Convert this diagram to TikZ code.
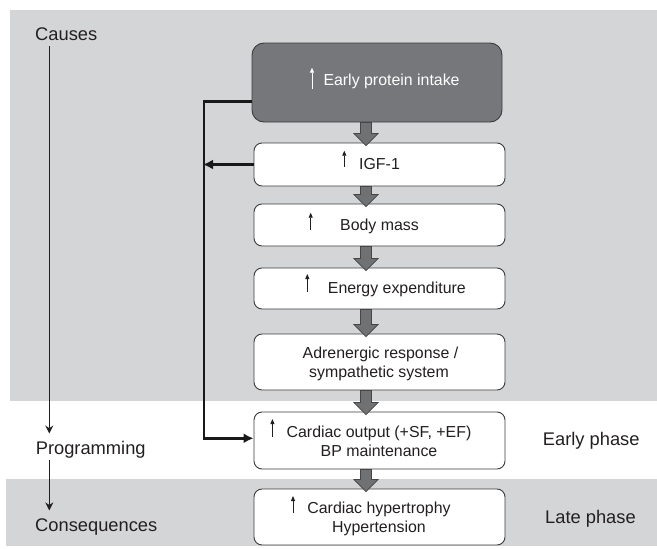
\documentclass[tikz,border=0pt]{standalone}
\usepackage{fontspec}
\setmainfont{Liberation Sans}
\usetikzlibrary{arrows.meta,calc}
\definecolor{bggray}{RGB}{212,213,215}
\definecolor{darkbox}{RGB}{118,119,122}
\definecolor{boxline}{RGB}{60,60,62}
\definecolor{arrfill}{RGB}{112,113,115}
\definecolor{arrline}{RGB}{70,70,72}
\definecolor{txt}{RGB}{35,31,32}
\newcommand{\flowarrow}[2]{%
  \filldraw[flowarr] ($(#1.south -| axis)+(-5.5,0)$) -- ($(#1.south -| axis)+(5.5,0)$)
   -- ($(#2.north -| axis)+(5.5,-9)$) -- ($(#2.north -| axis)+(12,-9)$)
   -- ($(#2.north -| axis)+(0,3)$) -- ($(#2.north -| axis)+(-12,-9)$)
   -- ($(#2.north -| axis)+(-5.5,-9)$) -- cycle;}
\begin{document}
\begin{tikzpicture}[x=1pt,y=-1pt,
  box/.style={draw=boxline, line width=0.9pt, rounded corners=8pt, fill=white,
    minimum width=251pt, inner sep=0pt},
  darkbx/.style={box, fill=darkbox, rounded corners=12pt, minimum width=250pt},
  btext/.style={font=\fontsize{15.9pt}{19pt}\selectfont, text=txt, inner sep=0pt},
  ltext/.style={font=\fontsize{18.3pt}{22pt}\selectfont, text=txt, inner sep=0pt, anchor=base west},
  flowarr/.style={fill=arrfill, draw=arrline, line width=0.7pt, line join=miter},
  fb/.style={draw=black!90, line width=2.8pt, -{Latex[length=10pt,width=10pt]}},
  tl/.style={draw=txt, line width=1.2pt, -{Stealth[length=8pt,width=8pt]}},
  upar/.style={draw=txt, line width=0.8pt, -{Triangle[length=5pt,width=4pt]}},
  upwhite/.style={upar, draw=white}]
\useasboundingbox (0,0) rectangle (657,549);
% background bands
\fill[bggray] (10,10) rectangle (657,401);
\fill[bggray] (6,479) rectangle (657,546);
% boxes
\node[darkbx, minimum height=79pt] (dark) at (377,82.5) {};
\node[box, minimum height=43pt] (igf) at (379.5,164.5) {};
\node[box, minimum height=42pt] (body) at (379.5,225) {};
\node[box, minimum height=41pt] (energy) at (379.5,288.5) {};
\node[box, minimum height=56pt] (adren) at (379.5,362) {};
\node[box, minimum height=57pt] (co) at (379.5,440.5) {};
\node[box, minimum height=56pt] (hyp) at (379.5,517) {};
% flow arrows
\coordinate (axis) at (366,0);
\flowarrow{dark}{igf}
\flowarrow{igf}{body}
\flowarrow{body}{energy}
\flowarrow{energy}{adren}
\flowarrow{adren}{co}
\flowarrow{co}{hyp}
% box texts
\node[btext, text=white, anchor=base west] (t0) at (323.3,85.5) {Early protein intake};
\node[btext, anchor=base west] (t1) at (359,169.3) {IGF-1};
\node[btext, anchor=base west] (t2) at (340,230.7) {Body mass};
\node[btext, anchor=base west] (t3) at (327.7,293.3) {Energy expenditure};
\node[btext, anchor=base] (t4a) at (380.5,358.3) {Adrenergic response /};
\node[btext, anchor=base] (t4b) at (379,377.6) {sympathetic system};
\node[btext, anchor=base] (t5a) at (379,437.3) {Cardiac output (+SF, +EF)};
\node[btext, anchor=base] (t5b) at (379,456) {BP maintenance};
\node[btext, anchor=base] (t6a) at (379,513.3) {Cardiac hypertrophy};
\node[btext, anchor=base] (t6b) at (379,532.3) {Hypertension};
% small up arrows
\draw[upwhite] (312,89) -- (312,67.7);
\draw[upar] (344.3,166.7) -- (344.3,150.7);
\draw[upar] (310.7,230) -- (310.7,212.7);
\draw[upar] (307.3,292) -- (307.3,274);
\draw[upar] (272.4,437) -- (272.4,419);
\draw[upar] (293,513) -- (293,496);
% feedback connectors
\coordinate (fbc) at (204,438.3);
\draw[fb] ([yshift=-19pt]dark.west) -| (fbc) -- (fbc -| co.west);
\draw[fb, shorten >=-1pt] (igf.west) -- (igf.west -| fbc);
% side labels
\node[ltext] (causes) at (35,40) {Causes};
\node[ltext] (prog) at (35.6,454) {Programming};
\node[ltext] (cons) at (35,531.7) {Consequences};
\node[ltext] (early) at (542.7,445.7) {Early phase};
\node[ltext] (late) at (545,523.3) {Late phase};
% timeline
\coordinate (tlx) at (49.3,0);
\draw[tl, shorten <=5.7pt, shorten >=7pt] (causes.south -| tlx) -- (prog.north -| tlx);
\draw[tl, shorten <=2pt, shorten >=8.3pt] (prog.south -| tlx) -- (cons.north -| tlx);
\end{tikzpicture}
\end{document}
